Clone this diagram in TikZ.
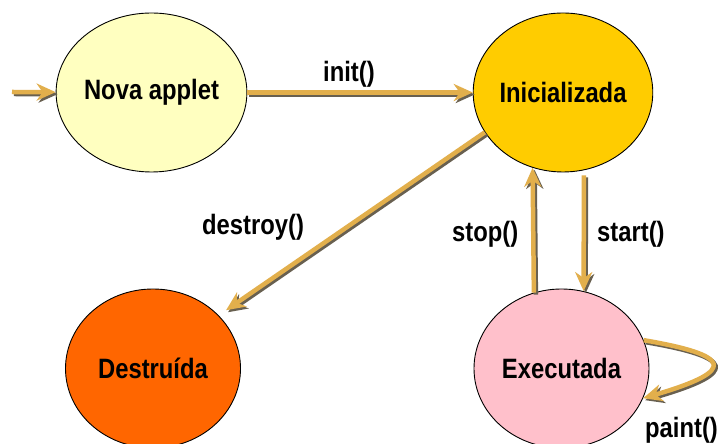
\documentclass[tikz,border=0pt]{standalone}
\usepackage{fontspec}
\setmainfont{Liberation Sans}[FakeStretch=0.85]
\usetikzlibrary{arrows.meta,shapes.geometric,calc}

\definecolor{novafill}{HTML}{FFFFC0}
\definecolor{inifill}{HTML}{FFCC00}
\definecolor{desfill}{HTML}{FF6600}
\definecolor{exefill}{HTML}{FFC0CB}
\definecolor{gold}{RGB}{226,175,76}
\definecolor{shade}{RGB}{104,96,80}

\tikzset{
  state/.style={ellipse, draw=black, line width=0.9pt, minimum width=175pt,
    minimum height=159pt, inner sep=0pt, font=\fontsize{28}{32}\selectfont\bfseries},
  lbl/.style={anchor=base west, inner sep=0pt, font=\fontsize{28}{32}\selectfont\bfseries},
  tip/.style={-{Stealth[length=19pt,width=17pt,inset=6pt]}},
  trans/.style={tip, draw=gold, line width=4.5pt,
    preaction={draw=shade, tip, line width=4.5pt,
      transform canvas={shift={(2pt,-2pt)}}}}
}

\begin{document}
\begin{tikzpicture}[x=1pt,y=1pt]
  \clip (0,0) rectangle (721,444);
  \fill[white] (0,0) rectangle (721,444);

  % states
  \node[state, fill=novafill] (nova) at (151.5,351.5) {Nova applet};
  \node[state, fill=inifill]  (ini)  at (563,351.5)   {Inicializada};
  \node[state, fill=desfill]  (des)  at (153,75.5)    {Destruída};
  \node[state, fill=exefill]  (exe)  at (561.5,75.5)  {Executada};

  % transitions
  \coordinate (entry) at (12,352);
  \draw[trans] (entry) -- (nova);
  \draw[trans] (nova) -- (ini);
  \draw[trans, shorten >=9pt] (ini.207.5) -- (des.39);
  \draw[trans] (exe.110.8) -- (ini.248.1);
  \draw[trans, shorten <=5pt] (ini.-75.5) -- (exe.74.4);
  \draw[trans] (exe.19) .. controls (730,89) and (740,74) .. (exe.-20);

  % labels
  \node[lbl] (linit)  at (323,362) {init()};
  \node[lbl] (ldes)   at (202,209) {destroy()};
  \node[lbl] (lstop)  at (452,202) {stop()};
  \node[lbl] (lstart) at (597,202) {start()};
  \node[lbl] (lpaint) at (645,6)   {paint()};
\end{tikzpicture}
\end{document}
